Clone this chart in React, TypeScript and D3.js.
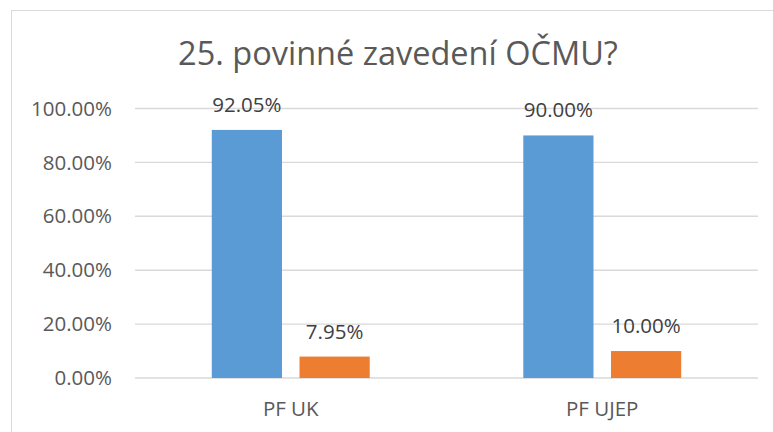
import React from 'react';
import * as d3 from 'd3';

const title = "25. povinné zavedení OČMU?";
const categories = ["PF UK", "PF UJEP"];
const seriesNames = ["ano", "ne"];
const seriesA = [0.9205, 0.9];
const seriesB = [0.0795, 0.1];
const yTicks = [0, 0.2, 0.4, 0.6, 0.8, 1.0];
const colors = ["#5B9BD5", "#ED7D31"];

const W = 773;
const H = 432;
const plot = { left: 135, right: 758, top: 108.5, bottom: 378 };
const font = "'Open Sans', 'Noto Sans', sans-serif";

const App: React.FC = () => {
    const fmt = d3.format(".2%");
    const y = d3.scaleLinear().domain([0, 1]).range([plot.bottom, plot.top]);
    const x0 = d3.scaleBand().domain(categories).range([plot.left, plot.right]);
    const gw = x0.bandwidth();
    const x1 = d3.scaleBand().domain(seriesNames).range([gw * 0.2465, gw * 0.7535]).paddingInner(0.2);

    const values = [seriesA, seriesB];

    return (
        <svg width={W} height={H} style={{ position: 'absolute', left: 0, top: 0, display: 'block', background: '#fff' }}>
            {/* chart frame */}
            <rect x={11.5} y={10.5} width={900} height={600} fill="#fff" stroke="#d9d9d9" strokeWidth={1} />

            <text x={398} y={65} textAnchor="middle" fontFamily={font} fontSize={32.5} fill="#595959">{title}</text>

            {/* gridlines + y labels */}
            {yTicks.map(t => (
                <g key={t}>
                    <line x1={plot.left} x2={plot.right} y1={y(t)} y2={y(t)} stroke="#d9d9d9" strokeWidth={1.4} />
                    <text x={112} y={y(t)} dy="0.35em" textAnchor="end" fontFamily={font} fontSize={20.5} fill="#595959">{fmt(t)}</text>
                </g>
            ))}

            {/* bars */}
            {categories.map((c, i) => (
                <g key={c} transform={`translate(${x0(c)},0)`}>
                    {seriesNames.map((s, j) => {
                        const v = values[j][i];
                        const bx = x1(s) as number;
                        return (
                            <g key={s}>
                                <rect x={bx} y={y(v)} width={x1.bandwidth()} height={plot.bottom - y(v)} fill={colors[j]} />
                                <text x={bx + x1.bandwidth() / 2} y={y(v) - 18} textAnchor="middle" fontFamily={font} fontSize={20.5} fill="#404040">{fmt(v)}</text>
                            </g>
                        );
                    })}
                    <text x={gw / 2} y={416} textAnchor="middle" fontFamily={font} fontSize={20.5} fill="#595959">{c}</text>
                </g>
            ))}
        </svg>
    );
};

export default App;
